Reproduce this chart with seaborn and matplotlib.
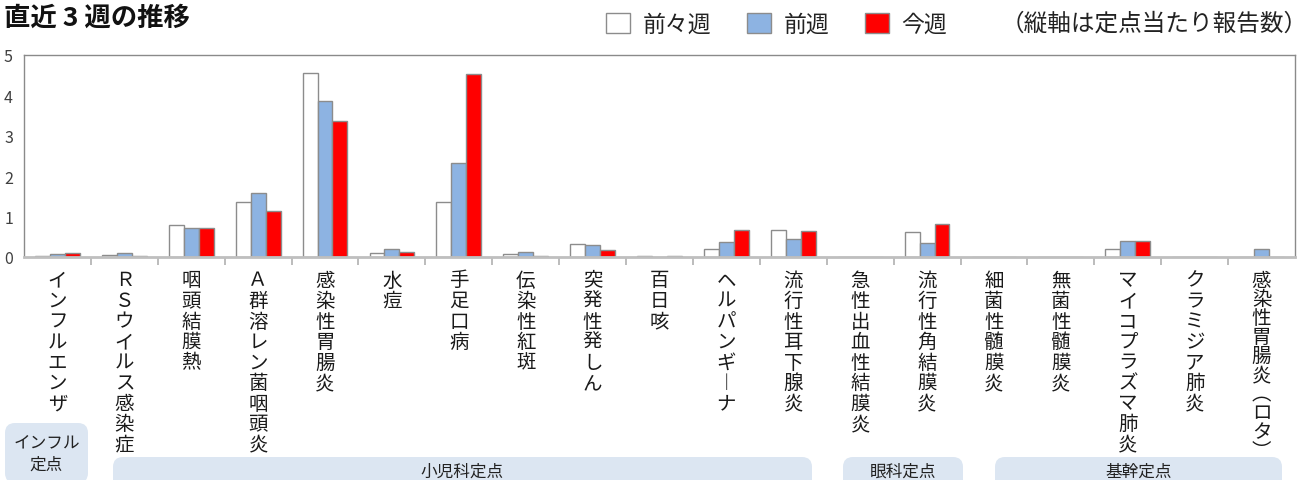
import matplotlib
matplotlib.use("Agg")
import matplotlib.pyplot as plt
import seaborn as sns
import pandas as pd
import numpy as np
from matplotlib.patches import FancyBboxPatch
from matplotlib.ticker import FixedLocator

# ---------------- data ----------------
categories = [
    "インフルエンザ", "ＲＳウイルス感染症", "咽頭結膜熱", "Ａ群溶レン菌咽頭炎",
    "感染性胃腸炎", "水痘", "手足口病", "伝染性紅斑", "突発性発しん", "百日咳",
    "ヘルパンギ︱ナ", "流行性耳下腺炎", "急性出血性結膜炎", "流行性角結膜炎",
    "細菌性髄膜炎", "無菌性髄膜炎", "マイコプラズマ肺炎", "クラミジア肺炎",
    "感染性胃腸炎︵ロタ︶",
]
weeks = ["前々週", "前週", "今週"]
vals_two_weeks_ago = [0.02, 0.05, 0.78, 1.35, 4.56, 0.10, 1.35, 0.08, 0.32, 0.02,
                      0.20, 0.66, 0.00, 0.62, 0.00, 0.00, 0.20, 0.00, 0.00]
vals_last_week = [0.07, 0.10, 0.73, 1.58, 3.87, 0.21, 2.32, 0.12, 0.29, 0.00,
                  0.37, 0.44, 0.00, 0.35, 0.00, 0.00, 0.40, 0.00, 0.19]
vals_this_week = [0.09, 0.02, 0.73, 1.15, 3.36, 0.12, 4.54, 0.02, 0.17, 0.02,
                  0.68, 0.64, 0.00, 0.82, 0.00, 0.00, 0.40, 0.00, 0.00]
y_ticks = [0, 1, 2, 3, 4, 5]
groups = [("インフル\n定点", 5, 88, 424), ("小児科定点", 113, 812, 458),
          ("眼科定点", 843, 963, 458), ("基幹定点", 995, 1282, 458)]
colors = ["#ffffff", "#8db3e2", "#ff0000"]

df = pd.DataFrame({
    "cat": np.repeat(categories, 3),
    "week": weeks * len(categories),
    "val": np.ravel(np.column_stack([vals_two_weeks_ago, vals_last_week, vals_this_week])),
})

# ---------------- figure ----------------
sns.set_theme(style="white")
plt.rcParams["font.family"] = ["Noto Sans CJK JP", "DejaVu Sans"]

W, H = 1307, 481
fig = plt.figure(figsize=(W / 100, H / 100), dpi=100)
ax = fig.add_axes([24 / W, 1 - 258 / H, (1295 - 24) / W, (258 - 56) / H])

sns.barplot(data=df, x="cat", y="val", hue="week", order=categories,
            hue_order=weeks, palette=colors, saturation=1, width=0.67, gap=0,
            edgecolor="#8c8c8c", linewidth=1.0, errorbar=None, ax=ax,
            legend=True)

handles, labels = ax.get_legend_handles_labels()
ax.get_legend().remove()

ax.set_xlim(-0.5, len(categories) - 0.5)
ax.set_ylim(0, 5)
ax.set_yticks(y_ticks)
ax.set_yticklabels([str(t) for t in y_ticks], fontsize=11.5, color="#404040")
ax.tick_params(axis="y", length=0, pad=8)
ax.set_xlabel("")
ax.set_ylabel("")

ax.set_xticks(range(len(categories)))
ax.set_xticklabels(["\n".join(c) for c in categories], fontsize=14,
                   color="#1a1a1a", va="top", ha="center", linespacing=0.97)
ax.get_xticklabels()[-1].set_linespacing(0.87)
ax.tick_params(axis="x", which="major", length=0, pad=9)
ax.xaxis.set_minor_locator(FixedLocator(np.arange(0.5, len(categories) - 1, 1.0)))
ax.tick_params(axis="x", which="minor", bottom=True, length=6, width=1.2,
               color="#b0b0b0", direction="out")

for s in ["left", "top", "right"]:
    ax.spines[s].set_color("#8a8a8a")
    ax.spines[s].set_linewidth(1.0)
    ax.spines[s].set_visible(True)
ax.spines["bottom"].set_color("#bfbfbf")
ax.spines["bottom"].set_linewidth(2.0)

# ---------------- overlay for text / group boxes ----------------
ov = fig.add_axes([0, 0, 1, 1], facecolor="none")
ov.set_xlim(0, W)
ov.set_ylim(H, 0)
ov.axis("off")

ov.text(4, 18, "直近 3 週の推移", fontsize=19, fontweight="bold",
        va="center", ha="left", color="#111111")
ov.text(1001, 24, "（縦軸は定点当たり報告数）", fontsize=17,
        va="center", ha="left", color="#222222")

leg = fig.legend(handles, labels, loc="center left",
                 bbox_to_anchor=(606 / W, 1 - 25 / H), ncol=3, frameon=False,
                 fontsize=16.5, handlelength=1.05, handleheight=0.95,
                 handletextpad=0.55, columnspacing=1.55, borderpad=0,
                 borderaxespad=0)
for t in leg.get_texts():
    t.set_color("#222222")

for name, x0, x1, y0 in groups:
    box = FancyBboxPatch((x0, y0), x1 - x0, 60,
                         boxstyle="round,pad=0,rounding_size=10",
                         facecolor="#dce6f2", edgecolor="none", clip_on=True)
    ov.add_patch(box)
    if "\n" in name:
        ov.text((x0 + x1) / 2, 454, name, fontsize=12, ha="center",
                va="center", color="#222222", linespacing=1.45)
    else:
        ov.text((x0 + x1) / 2, 472, name, fontsize=12, ha="center",
                va="center", color="#222222")

fig.savefig("out.png", dpi=100)
